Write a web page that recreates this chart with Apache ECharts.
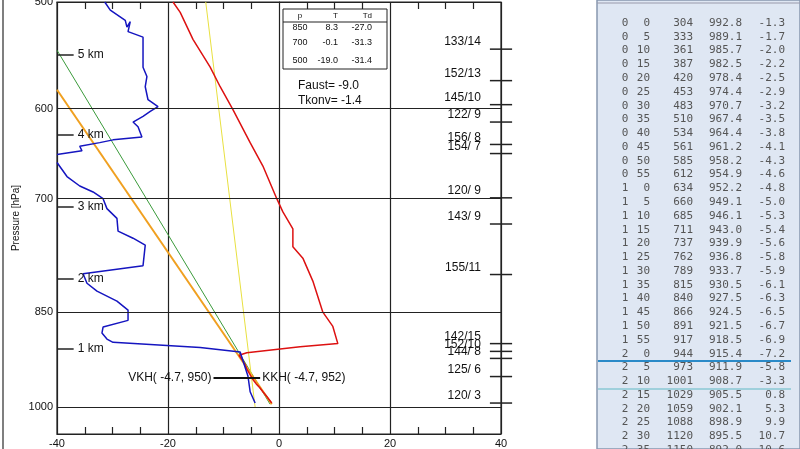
<!DOCTYPE html>
<html>
<head>
<meta charset="utf-8">
<script src="https://cdn.jsdelivr.net/npm/echarts@6/dist/echarts.min.js"></script>
<style>html,body{margin:0;padding:0;background:#fff;}#main{width:800px;height:449px;}</style>
</head>
<body>
<div id="main"></div>
<script>
// temperature profile
var tempT = [-19.1, -17.8, -15.5, -12.4, -10.6, -8.3, -5.2, -2.9, -0.4, 0.7, 2.5, 2.5, 4.3, 6.1, 7.9, 9.7, 10.6, 3.8, -5.8, -7.2, -6.9, -6.5, -6.1, -5.8, -5.4, -5.0, -4.6, -4.1, -3.5, -2.9, -2.2, -1.3];
var tempP = [500, 509, 533, 559, 578, 601, 636, 662, 700, 716, 737, 760, 775, 806, 850, 871, 897, 902, 911, 915, 918, 924, 930, 937, 943, 949, 955, 961, 967, 974, 982, 993];
// dew point profile (null = leaves the chart on the left)
var dewT = [-31.4, -30.4, -27.7, -27.4, -26.8, -27.2, -24.5, -24.5, -23.8, -24.1, -23.6, -21.8, -23.2, -24.5, -26.3, -25.4, -24.7, -29.9, -32.3, -35.9, -35.5, -40, null, -40, -38.2, -35.9, -33.5, -31.7, -31.0, -29.2, -29.0, -26.3, -24.1, -24.5, -35.3, -34.6, -32.8, -29.2, -27.2, -27.2, -31.7, -31.9, -31.0, -29.9, -14.2, -7.0, -6.7, -5.6, -5.2, -4.3];
var dewP = [500, 507, 516, 522, 517, 526, 531, 559, 568, 578, 591, 598, 603, 608, 614, 619, 630, 633, 636, 640, 645, 649, null, 658, 674, 685, 692, 700, 712, 724, 740, 749, 758, 785, 796, 809, 820, 834, 847, 862, 872, 881, 890, 895, 903, 910, 912, 948, 974, 993];
// straight guide lines [T, p]
var greenLine = [[-40, 543], [-1.6, 995]];
var orangeLine = [[-40, 581], [-1.3, 995]];
var yellowLine = [[-13.2, 500], [-4.3, 1000]];
// wind labels
var windLabels = ['133/14', '152/13', '145/10', '122/ 9', '156/ 8', '154/ 7', '120/ 9', '143/ 9', '155/11', '142/15', '152/10', '144/ 8', '125/ 6', '120/ 3'];
var windP = [542, 572, 596, 614, 638, 648, 699, 731, 797, 897, 909, 920, 949, 993];
// height labels
var kmLabels = ['5 km', '4 km', '3 km', '2 km', '1 km'];
var kmP = [547, 627, 710, 803, 905];
// pressure grid
var pLevels = [600, 700, 850, 1000];
// table rows
var tabH = [0,0,0,0,0,0,0,0,0,0,0,0,1,1,1,1,1,1,1,1,1,1,1,1,2,2,2,2,2,2,2,2];
var tabM = [0,5,10,15,20,25,30,35,40,45,50,55,0,5,10,15,20,25,30,35,40,45,50,55,0,5,10,15,20,25,30,35];
var tabZ = [304,333,361,387,420,453,483,510,534,561,585,612,634,660,685,711,737,762,789,815,840,866,891,917,944,973,1001,1029,1059,1088,1120,1150];
var tabP = ['992.8','989.1','985.7','982.5','978.4','974.4','970.7','967.4','964.4','961.2','958.2','954.9','952.2','949.1','946.1','943.0','939.9','936.8','933.7','930.5','927.5','924.5','921.5','918.5','915.4','911.9','908.7','905.5','902.1','898.9','895.5','892.0'];
var tabT = ['-1.3','-1.7','-2.0','-2.2','-2.5','-2.9','-3.2','-3.5','-3.8','-4.1','-4.3','-4.6','-4.8','-5.0','-5.3','-5.4','-5.6','-5.8','-5.9','-6.1','-6.3','-6.5','-6.7','-6.9','-7.2','-5.8','-3.3','0.8','5.3','9.9','10.7','10.6'];

var ly = function (p) { return p == null ? null : Math.log(p); };
function pairs(ts, ps) {
  return ts.map(function (t, i) { return t == null ? [null, null] : [t, ly(ps[i])]; });
}
var font = 'Liberation Sans';

var myChart = echarts.init(document.getElementById('main'));

var gridMarks = pLevels.map(function (p) {
  return [{coord: [-40, ly(p)], label: {show: true, position: 'start', formatter: String(p), color: '#111', fontFamily: font, fontSize: 11, distance: 4}},
          {coord: [40, ly(p)]}];
});
var kmMarks = kmLabels.map(function (s, i) {
  return [{coord: [-40, ly(kmP[i])]},
          {coord: [-37, ly(kmP[i])], label: {show: true, position: 'end', formatter: s, color: '#111', fontFamily: font, fontSize: 12, distance: 4}}];
});
var khMarks = [
  [{coord: [-11.8, ly(951)], label: {show: true, position: 'start', formatter: 'VKH( -4.7, 950)', color: '#111', fontFamily: font, fontSize: 12, distance: 2}},
   {coord: [-3.4, ly(951)]}]
];

var option = {
  animation: false,
  grid: {left: 57, right: 299, top: 2, bottom: 12, show: true, borderColor: '#222', borderWidth: 1.2},
  xAxis: [
    {type: 'value', min: -40, max: 40, interval: 20, position: 'bottom',
     axisLine: {lineStyle: {color: '#222'}}, axisTick: {show: false},
     minorTick: {show: true, splitNumber: 4, length: -7, lineStyle: {color: '#222', width: 1.2}},
     splitLine: {show: true, lineStyle: {color: '#222', width: 1.2}},
     axisLabel: {margin: 4, color: '#111', fontFamily: font, fontSize: 11}},
    {type: 'value', min: -40, max: 40, interval: 20, position: 'top',
     axisLine: {lineStyle: {color: '#222'}}, axisTick: {show: false},
     minorTick: {show: true, splitNumber: 4, length: -7, lineStyle: {color: '#222', width: 1.2}},
     splitLine: {show: false}, axisLabel: {show: false}}
  ],
  yAxis: {type: 'value', min: ly(500), max: ly(1047), inverse: true,
          axisLine: {show: true, lineStyle: {color: '#222'}}, axisTick: {show: false},
          axisLabel: {show: false}, splitLine: {show: false},
          name: 'Pressure [hPa]', nameLocation: 'middle', nameGap: 36, nameRotate: 90,
          nameTextStyle: {color: '#111', fontFamily: font, fontSize: 10}},
  series: [
    {type: 'line', data: [], silent: true,
     markLine: {symbol: 'none', silent: true, animation: false, lineStyle: {color: '#222', width: 1.2, type: 'solid'}, data: gridMarks}},
    {type: 'line', data: [], silent: true,
     markLine: {symbol: 'none', silent: true, animation: false, lineStyle: {color: '#222', width: 1.5, type: 'solid'}, data: kmMarks}},
    {type: 'line', data: greenLine.map(function (d) { return [d[0], ly(d[1])]; }), symbol: 'none', lineStyle: {color: '#3a9a3a', width: 1}},
    {type: 'line', data: orangeLine.map(function (d) { return [d[0], ly(d[1])]; }), symbol: 'none', lineStyle: {color: '#f0a020', width: 2}},
    {type: 'line', data: yellowLine.map(function (d) { return [d[0], ly(d[1])]; }), symbol: 'none', lineStyle: {color: '#e8e040', width: 1}},
    {type: 'line', data: pairs(tempT, tempP), symbol: 'none', connectNulls: false, lineStyle: {color: '#dd1111', width: 1.5}},
    {type: 'line', data: pairs(dewT, dewP), symbol: 'none', connectNulls: false, lineStyle: {color: '#1515c0', width: 1.5}},
    {type: 'line', data: [], silent: true,
     markLine: {symbol: 'none', silent: true, animation: false, lineStyle: {color: '#111', width: 1.8, type: 'solid'}, data: khMarks}}
  ]
};
myChart.setOption(option);

var g = [];
var px = function (t, p) { return myChart.convertToPixel({gridIndex: 0}, [t, ly(p)]); };
// labels that sit outside the plot: placed through the axis scales
var p500 = px(-40, 500);
g.push({type: 'text', x: p500[0] - 4, y: p500[1], style: {text: '500', textAlign: 'right', textVerticalAlign: 'middle', fill: '#111', font: '11px ' + font}});
var kkh = px(-3.4, 951);
g.push({type: 'text', x: kkh[0] + 2, y: kkh[1], style: {text: 'KKH( -4.7, 952)', textVerticalAlign: 'middle', fill: '#111', font: '12px ' + font}});
windLabels.forEach(function (s, i) {
  var a = px(38, windP[i]), b = px(42, windP[i]);
  g.push({type: 'line', shape: {x1: a[0], y1: a[1], x2: b[0], y2: b[1]}, style: {stroke: '#222', lineWidth: 1.5}});
  g.push({type: 'text', x: a[0] - 9, y: a[1] - 1, style: {text: s, textAlign: 'right', textVerticalAlign: 'bottom', fill: '#111', font: '12px ' + font}});
});

// info box
g.push({type: 'rect', shape: {x: 283, y: 9, width: 104, height: 60}, style: {fill: '#fff', stroke: '#222', lineWidth: 1}, z: 10});
g.push({type: 'line', shape: {x1: 283, y1: 22, x2: 387, y2: 22}, style: {stroke: '#222', lineWidth: 1}, z: 10});
var boxRows = [['p', 'T', 'Td'], ['850', '8.3', '-27.0'], ['700', '-0.1', '-31.3'], ['500', '-19.0', '-31.4']];
var boxY = [16, 28, 43, 61];
boxRows.forEach(function (r, i) {
  var fs = i === 0 ? 8 : 9;
  g.push({type: 'text', x: 300, y: boxY[i], z: 11, style: {text: r[0], textAlign: 'center', textVerticalAlign: 'middle', fill: '#111', font: fs + 'px ' + font}});
  g.push({type: 'text', x: 338, y: boxY[i], z: 11, style: {text: r[1], textAlign: 'right', textVerticalAlign: 'middle', fill: '#111', font: fs + 'px ' + font}});
  g.push({type: 'text', x: 372, y: boxY[i], z: 11, style: {text: r[2], textAlign: 'right', textVerticalAlign: 'middle', fill: '#111', font: fs + 'px ' + font}});
});
g.push({type: 'text', x: 298, y: 86, z: 11, style: {text: 'Faust= -9.0', textVerticalAlign: 'middle', fill: '#111', font: '12px ' + font}});
g.push({type: 'text', x: 298, y: 101, z: 11, style: {text: 'Tkonv= -1.4', textVerticalAlign: 'middle', fill: '#111', font: '12px ' + font}});
// window frame on the left
g.push({type: 'line', shape: {x1: 3, y1: 0, x2: 3, y2: 449}, style: {stroke: '#555', lineWidth: 1.5}});

// right text panel
g.push({type: 'rect', shape: {x: 597, y: 0, width: 203, height: 449}, style: {fill: '#dfe7f3', stroke: '#8898b0', lineWidth: 1.5}, z: 5});
g.push({type: 'line', shape: {x1: 597, y1: 3, x2: 800, y2: 3}, style: {stroke: '#99a', lineWidth: 1}, z: 6});
tabH.forEach(function (h, i) {
  var y = 23 + i * 13.78;
  var f = '11px "DejaVu Sans Mono"';
  var c = '#555';
  g.push({type: 'text', x: 625, y: y, z: 7, style: {text: String(h), textAlign: 'center', textVerticalAlign: 'middle', fill: c, font: f}});
  g.push({type: 'text', x: 650, y: y, z: 7, style: {text: String(tabM[i]), textAlign: 'right', textVerticalAlign: 'middle', fill: c, font: f}});
  g.push({type: 'text', x: 693, y: y, z: 7, style: {text: String(tabZ[i]), textAlign: 'right', textVerticalAlign: 'middle', fill: c, font: f}});
  g.push({type: 'text', x: 742, y: y, z: 7, style: {text: tabP[i], textAlign: 'right', textVerticalAlign: 'middle', fill: c, font: f}});
  g.push({type: 'text', x: 785, y: y, z: 7, style: {text: tabT[i], textAlign: 'right', textVerticalAlign: 'middle', fill: c, font: f}});
});
g.push({type: 'line', shape: {x1: 598, y1: 361, x2: 791, y2: 361}, style: {stroke: '#2a8ac8', lineWidth: 2}, z: 8});
g.push({type: 'line', shape: {x1: 598, y1: 389, x2: 791, y2: 389}, style: {stroke: '#9fd0dc', lineWidth: 2}, z: 8});

myChart.setOption({graphic: g});
</script>
</body>
</html>
